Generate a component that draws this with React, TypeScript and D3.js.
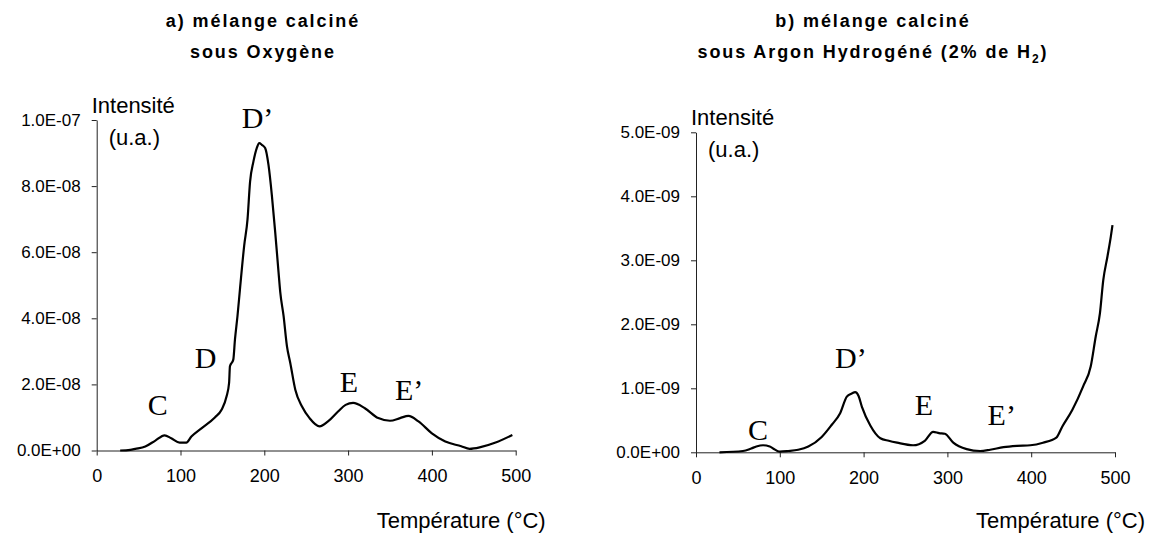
import { useRef, useEffect } from "react";
import * as d3 from "d3";

// a) mélange calciné sous oxygène
const tempA = [
  28, 40, 46, 58, 70, 81, 89, 99, 107, 113, 125, 141, 149, 155, 158, 159, 163, 165, 168, 171, 176, 180,
  183, 187, 191, 194, 197, 201, 205, 209, 213, 217, 219, 223, 227, 231, 237, 245, 254, 266, 276, 288,
  297, 306, 320, 336, 350, 362, 372, 384, 400, 416, 435, 445, 458, 476, 496,
];
const intensA = [
  0, 0.02e-8, 0.05e-8, 0.12e-8, 0.3e-8, 0.46e-8, 0.37e-8, 0.24e-8, 0.24e-8, 0.42e-8, 0.67e-8, 1.0e-8,
  1.23e-8, 1.64e-8, 2.05e-8, 2.55e-8, 2.75e-8, 3.36e-8, 4.07e-8, 4.89e-8, 6.2e-8, 7.0e-8, 8.13e-8,
  8.74e-8, 9.15e-8, 9.3e-8, 9.25e-8, 9.15e-8, 8.64e-8, 7.73e-8, 6.61e-8, 5.39e-8, 4.8e-8, 4.07e-8,
  3.16e-8, 2.65e-8, 1.84e-8, 1.33e-8, 0.98e-8, 0.73e-8, 0.88e-8, 1.18e-8, 1.38e-8, 1.44e-8, 1.28e-8,
  0.98e-8, 0.9e-8, 0.98e-8, 1.05e-8, 0.88e-8, 0.52e-8, 0.27e-8, 0.13e-8, 0.05e-8, 0.1e-8, 0.24e-8,
  0.47e-8,
];

// b) mélange calciné sous argon hydrogéné
const tempB = [
  28, 56, 66, 72, 80, 88, 92, 100, 110, 122, 134, 150, 162, 172, 180, 186, 190, 194, 198, 208, 220,
  230, 240, 259, 273, 283, 290, 297, 307, 323, 339, 351, 367, 383, 399, 414, 430, 437, 449, 462, 471,
  477, 482, 486, 491, 495, 497,
];
const intensB = [
  0, 0.02e-9, 0.06e-9, 0.09e-9, 0.11e-9, 0.09e-9, 0.06e-9, 0.01e-9, 0.02e-9, 0.04e-9, 0.09e-9,
  0.24e-9, 0.43e-9, 0.61e-9, 0.87e-9, 0.92e-9, 0.94e-9, 0.88e-9, 0.71e-9, 0.42e-9, 0.22e-9, 0.18e-9,
  0.15e-9, 0.11e-9, 0.18e-9, 0.32e-9, 0.3e-9, 0.29e-9, 0.15e-9, 0.05e-9, 0.02e-9, 0.04e-9, 0.08e-9,
  0.1e-9, 0.11e-9, 0.15e-9, 0.23e-9, 0.4e-9, 0.66e-9, 1.03e-9, 1.34e-9, 1.81e-9, 2.17e-9, 2.69e-9,
  3.06e-9, 3.37e-9, 3.55e-9,
];

const xTicks = [0, 100, 200, 300, 400, 500];
const yTicksA = [0, 2e-8, 4e-8, 6e-8, 8e-8, 1e-7];
const yTicksB = [0, 1e-9, 2e-9, 3e-9, 4e-9, 5e-9];

// peak names, placed in data units (temperature, intensity)
const peaksA = ["C", "D", "D’", "E", "E’"];
const peakTempA = [61, 117, 173, 290, 356];
const peakIntensA = [1.07e-8, 2.5e-8, 9.76e-8, 1.77e-8, 1.53e-8];
const peaksB = ["C", "D’", "E", "E’"];
const peakTempB = [62, 166, 261, 348];
const peakIntensB = [0.19e-9, 1.32e-9, 0.58e-9, 0.43e-9];

const titleA = ["a)  mélange calciné", "sous Oxygène"];
const titleB = ["b)  mélange calciné", "sous Argon Hydrogéné (2% de H"];

const W = 1160;
const H = 538;
const SANS = "'Liberation Sans', Arial, sans-serif";
const SERIF = "'Liberation Serif', 'Times New Roman', serif";

// 0 -> 0.0E+00, 1e-7 -> 1.0E-07
const sci = (v: number) => {
  const [m, e] = v.toExponential(1).split("e");
  const n = +e;
  return `${m}E${n < 0 ? "-" : "+"}${String(Math.abs(n)).padStart(2, "0")}`;
};

interface Panel {
  temps: number[];
  values: number[];
  yTicks: number[];
  peaks: string[];
  peakTemps: number[];
  peakValues: number[];
  title: string[];
  sub: boolean;
  left: number;
  right: number;
  top: number;
  bottom: number;
  titleX: number;
}

const App = () => {
  const ref = useRef<SVGSVGElement | null>(null);

  useEffect(() => {
    const svg = d3.select(ref.current);
    svg.selectAll("*").remove();

    const panels: Panel[] = [
      {
        temps: tempA, values: intensA, yTicks: yTicksA,
        peaks: peaksA, peakTemps: peakTempA, peakValues: peakIntensA,
        title: titleA, sub: false,
        left: 96.7, right: 515.7, top: 120, bottom: 450.5, titleX: 263,
      },
      {
        temps: tempB, values: intensB, yTicks: yTicksB,
        peaks: peaksB, peakTemps: peakTempB, peakValues: peakIntensB,
        title: titleB, sub: true,
        left: 696, right: 1115, top: 132.3, bottom: 452.3, titleX: 873,
      },
    ];

    panels.forEach((p) => {
      const x = d3.scaleLinear().domain([0, 500]).range([p.left, p.right]);
      const y = d3
        .scaleLinear()
        .domain([0, p.yTicks[p.yTicks.length - 1]])
        .range([p.bottom, p.top]);

      const g = svg.append("g");

      // title, two lines
      g.append("text")
        .attr("x", p.titleX)
        .attr("y", 27)
        .attr("text-anchor", "middle")
        .attr("font-family", SANS)
        .attr("font-weight", "bold")
        .attr("font-size", 18)
        .attr("letter-spacing", 1.9)
        .text(p.title[0]);
      const t2 = g
        .append("text")
        .attr("x", p.titleX)
        .attr("y", 58)
        .attr("text-anchor", "middle")
        .attr("font-family", SANS)
        .attr("font-weight", "bold")
        .attr("font-size", 18)
        .attr("letter-spacing", 1.9);
      t2.append("tspan").text(p.title[1]);
      if (p.sub) {
        t2.append("tspan").attr("font-size", 12).attr("dy", 5).text("2");
        t2.append("tspan").attr("dy", -5).text(")");
      }

      // axes
      const xAxis = g
        .append("g")
        .attr("transform", `translate(0,${p.bottom})`)
        .call(d3.axisBottom(x).tickValues(xTicks).tickSize(5).tickPadding(14).tickSizeOuter(0));
      xAxis.attr("font-family", SANS).attr("font-size", 18);

      const yAxis = g
        .append("g")
        .attr("transform", `translate(${p.left},0)`)
        .call(
          d3.axisLeft(y).tickValues(p.yTicks).tickFormat((d) => sci(+d)).tickSize(5).tickPadding(11).tickSizeOuter(0)
        );
      yAxis.attr("font-family", SANS).attr("font-size", 17);

      [xAxis, yAxis].forEach((a) => {
        a.selectAll("path, line").attr("stroke", "#222").attr("stroke-width", 1);
        a.selectAll("text").attr("fill", "#000");
      });

      // axis titles
      g.append("text")
        .attr("x", p.left - 5)
        .attr("y", p.top - 7)
        .attr("font-family", SANS)
        .attr("font-size", 22)
        .text("Intensité");
      g.append("text")
        .attr("x", p.left + 12)
        .attr("y", p.top + 25)
        .attr("font-family", SANS)
        .attr("font-size", 22)
        .text("(u.a.)");
      g.append("text")
        .attr("x", x(500) + 30)
        .attr("y", 528)
        .attr("text-anchor", "end")
        .attr("font-family", SANS)
        .attr("font-size", 22)
        .text("Température (°C)");

      // curve
      const pts = p.temps.map((t, i) => [t, p.values[i]] as [number, number]);
      const line = d3
        .line<[number, number]>()
        .x((d) => x(d[0]))
        .y((d) => y(d[1]))
        .curve(d3.curveMonotoneX);
      g.append("path")
        .attr("d", line(pts))
        .attr("fill", "none")
        .attr("stroke", "#000")
        .attr("stroke-width", 2.2)
        .attr("stroke-linejoin", "round");

      // peak letters
      g.selectAll("text.peak")
        .data(p.peaks)
        .enter()
        .append("text")
        .attr("class", "peak")
        .attr("x", (_, i) => x(p.peakTemps[i]))
        .attr("y", (_, i) => y(p.peakValues[i]))
        .attr("font-family", SERIF)
        .attr("font-size", 30)
        .text((d) => d);
    });
  }, []);

  return (
    <svg
      ref={ref}
      width={W}
      height={H}
      style={{ position: "absolute", left: 0, top: 0, background: "#fff" }}
    />
  );
};

export default App;
